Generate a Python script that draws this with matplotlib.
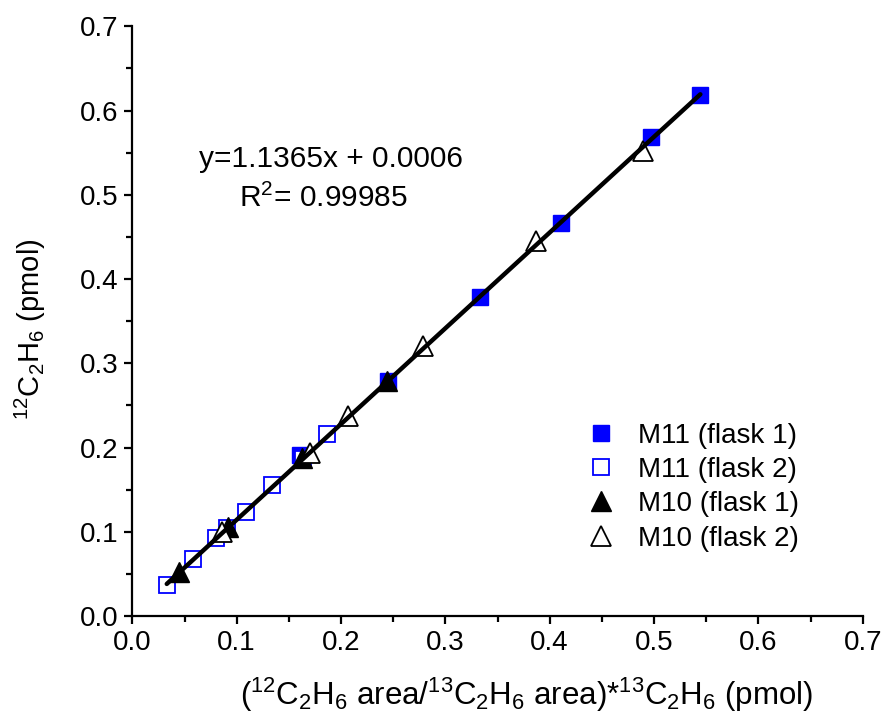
import matplotlib.pyplot as plt
import numpy as np
from matplotlib.ticker import MultipleLocator

plt.rcParams['font.family'] = ['Liberation Sans', 'DejaVu Sans']
plt.rcParams['mathtext.fontset'] = 'custom'
plt.rcParams['mathtext.rm'] = 'Liberation Sans'

# M11 (flask 1) - filled blue squares
m11_f1_x = [0.5444, 0.4974, 0.4109, 0.3335, 0.2454, 0.1607]
m11_f1_y = [0.6180, 0.5685, 0.4671, 0.3783, 0.2785, 0.1913]
# M11 (flask 2) - open blue squares
m11_f2_x = [0.0330, 0.0579, 0.0799, 0.0910, 0.1090, 0.1342, 0.1633, 0.1863]
m11_f2_y = [0.0368, 0.0677, 0.0931, 0.1042, 0.1240, 0.1557, 0.1862, 0.2159]
# M10 (flask 1) - filled black triangles
m10_f1_x = [0.0450, 0.0920, 0.1626, 0.2438]
m10_f1_y = [0.0527, 0.1054, 0.1878, 0.2785]
# M10 (flask 2) - open triangles
m10_f2_x = [0.0857, 0.1703, 0.2064, 0.2789, 0.3869, 0.4897]
m10_f2_y = [0.1002, 0.1934, 0.2369, 0.3201, 0.4449, 0.5518]

SLOPE = 1.1365
INTERCEPT = 0.0006
R2 = 0.99985

fig = plt.figure(figsize=(8.87, 7.25), dpi=100)
ax = fig.add_axes([0.1492, 0.1503, 0.8234, 0.8134])

ax.plot(m11_f1_x, m11_f1_y, ls='none', marker='s', ms=12, mfc='#0000ff',
        mec='#0000ff', label='M11 (flask 1)')
ax.plot(m11_f2_x, m11_f2_y, ls='none', marker='s', ms=12, mfc='white',
        mec='#0000ff', mew=1.3, label='M11 (flask 2)')
ax.plot(m10_f1_x, m10_f1_y, ls='none', marker='^', ms=15, mfc='black',
        mec='black', label='M10 (flask 1)')
ax.plot(m10_f2_x, m10_f2_y, ls='none', marker='^', ms=15, mfc='white',
        mec='black', mew=1.3, label='M10 (flask 2)')

# linear fit over all points
all_x = np.array(m11_f1_x + m11_f2_x + m10_f1_x + m10_f2_x)
xf = np.array([all_x.min(), all_x.max()])
ax.plot(xf, SLOPE * xf + INTERCEPT, color='black', lw=3.2, solid_capstyle='round')

ax.text(0.1904, 0.542, f'y={SLOPE}x + {INTERCEPT}', fontsize=21.5, ha='center',
        va='center')
ax.text(0.1836, 0.496, f'R$^2$= {R2}', fontsize=21.5, ha='center', va='center')

ax.set_xlim(0, 0.7)
ax.set_ylim(0, 0.7)
ax.xaxis.set_major_locator(MultipleLocator(0.1))
ax.xaxis.set_minor_locator(MultipleLocator(0.05))
ax.yaxis.set_major_locator(MultipleLocator(0.1))
ax.yaxis.set_minor_locator(MultipleLocator(0.05))
ax.xaxis.set_major_formatter(plt.FormatStrFormatter('%.1f'))
ax.yaxis.set_major_formatter(plt.FormatStrFormatter('%.1f'))
for s in ['top', 'right']:
    ax.spines[s].set_visible(False)
for s in ['left', 'bottom']:
    ax.spines[s].set_linewidth(1.6)
ax.tick_params(which='major', direction='out', length=6, width=1.6, labelsize=20,
               pad=4)
ax.tick_params(which='minor', direction='out', length=4, width=1.6)

ax.set_xlabel('($^{12}$C$_2$H$_6$ area/$^{13}$C$_2$H$_6$ area)*$^{13}$C$_2$H$_6$ (pmol)',
              fontsize=22.5, va='center')
ax.xaxis.set_label_coords(0.540, -0.134)
ax.set_ylabel('$^{12}$C$_2$H$_6$ (pmol)', fontsize=21, va='center')
ax.yaxis.set_label_coords(-0.140, 0.487)

ax.legend(loc='upper left', bbox_to_anchor=(0.603, 0.347), frameon=False,
          fontsize=20, handletextpad=0.75, labelspacing=0.3, handlelength=1.2,
          borderaxespad=0)

fig.savefig('out.png', dpi=100)
